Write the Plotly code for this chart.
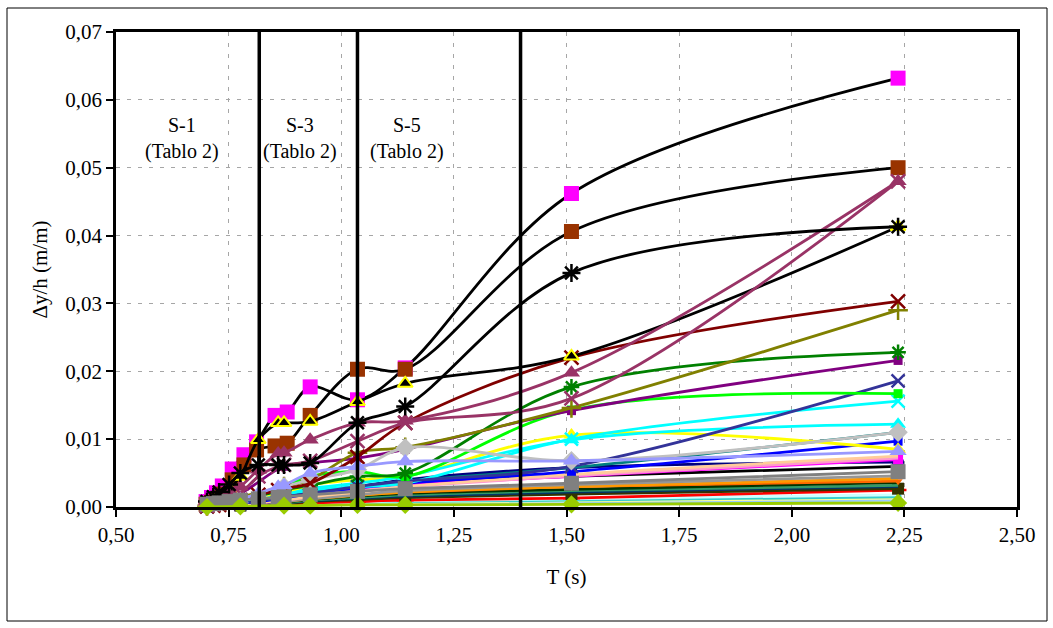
import plotly.graph_objects as go

# ---------------- data ----------------
T_ALL = [0.702, 0.716, 0.729, 0.751, 0.776, 0.816, 0.860, 0.873, 0.931, 1.036, 1.142, 1.511, 2.236]
T_MAIN = [0.702, 0.776, 0.873, 0.931, 1.036, 1.142, 1.511, 2.236]
T_PINK = [0.700, 0.712, 0.723, 0.736, 0.758, 0.784, 0.812, 0.853, 0.880, 0.931, 1.036, 1.142, 1.511, 2.236]

Y_PINK = [0.0008, 0.0014, 0.0021, 0.0031, 0.0056, 0.0077, 0.0096, 0.0135, 0.0140, 0.0177, 0.0158, 0.0205, 0.0462, 0.0632]
Y_BROWN = [0.0004, 0.0007, 0.0012, 0.0019, 0.0040, 0.0062, 0.0084, 0.0090, 0.0094, 0.0135, 0.0203, 0.0203, 0.0406, 0.0500]
Y_AST = [0.0008, 0.0015, 0.0022, 0.0033, 0.0050, 0.0062, 0.0062, 0.0062, 0.0065, 0.0124, 0.0148, 0.0345, 0.0413]
Y_YTRI = [0.0005, 0.0010, 0.0015, 0.0027, 0.0045, 0.0099, 0.0124, 0.0124, 0.0126, 0.0155, 0.0182, 0.0222, 0.0413]
Y_PTRI = [0.0003, 0.0006, 0.0010, 0.0018, 0.0030, 0.0055, 0.0079, 0.0080, 0.0099, 0.0124, 0.0127, 0.0198, 0.0480]
Y_PX = [0.0002, 0.0004, 0.0007, 0.0012, 0.0020, 0.0045, 0.0060, 0.0062, 0.0068, 0.0097, 0.0124, 0.0160, 0.0480]
Y_DRED = [0.0001, 0.0002, 0.0003, 0.0006, 0.0010, 0.0018, 0.0025, 0.0027, 0.0035, 0.0074, 0.0124, 0.0220, 0.0303]
Y_LAV = [0.0001, 0.0002, 0.0004, 0.0007, 0.0011, 0.0020, 0.0030, 0.0032, 0.0050, 0.0060, 0.0067, 0.0068, 0.0082]
Y_GRAY = [0.0004, 0.0005, 0.0006, 0.0008, 0.0010, 0.0012, 0.0014, 0.0015, 0.0018, 0.0023, 0.0027, 0.0035, 0.0052]

Y_OLIVE = [0.0002, 0.0015, 0.0030, 0.0040, 0.0080, 0.0088, 0.0146, 0.0290]
Y_GREEN = [0.0002, 0.0010, 0.0025, 0.0032, 0.0045, 0.0050, 0.0177, 0.0228]
Y_PURPLE = [0.0003, 0.0020, 0.0060, 0.0065, 0.0072, 0.0085, 0.0142, 0.0216]
Y_LIME = [0.0002, 0.0010, 0.0030, 0.0045, 0.0052, 0.0045, 0.0143, 0.0167]
Y_SLATE = [0.0001, 0.0005, 0.0015, 0.0020, 0.0030, 0.0038, 0.0060, 0.0186]
Y_CYANX = [0.0001, 0.0006, 0.0018, 0.0025, 0.0030, 0.0035, 0.0100, 0.0156]
Y_CYANT = [0.0001, 0.0006, 0.0018, 0.0027, 0.0035, 0.0045, 0.0099, 0.0122]
Y_YELLOW = [0.0001, 0.0008, 0.0020, 0.0032, 0.0040, 0.0045, 0.0106, 0.0085]
Y_SILVER = [0.0002, 0.0012, 0.0030, 0.0040, 0.0055, 0.0087, 0.0068, 0.0110]
Y_TEAL = [0.0001, 0.0006, 0.0015, 0.0022, 0.0030, 0.0038, 0.0058, 0.0110]
Y_BLUE = [0.0001, 0.0005, 0.0013, 0.0020, 0.0028, 0.0035, 0.0052, 0.0097]
Y_PEACH = [0.0001, 0.0004, 0.0010, 0.0015, 0.0022, 0.0030, 0.0048, 0.0075]
Y_ROSE = [0.0001, 0.0004, 0.0011, 0.0017, 0.0024, 0.0030, 0.0046, 0.0072]
Y_MAGENTA = [0.0001, 0.0004, 0.0010, 0.0016, 0.0025, 0.0032, 0.0045, 0.0070]
Y_NAVY = [0.0001, 0.0005, 0.0012, 0.0020, 0.0030, 0.0040, 0.0058, 0.0066]
Y_BLACK2 = [0.0001, 0.0004, 0.0010, 0.0018, 0.0025, 0.0035, 0.0045, 0.0060]
Y_LGRAY = [0.0001, 0.0003, 0.0008, 0.0012, 0.0018, 0.0024, 0.0033, 0.0046]
Y_LORANGE = [0.0001, 0.0003, 0.0008, 0.0012, 0.0017, 0.0022, 0.0030, 0.0042]
Y_ORANGE = [0.0001, 0.0004, 0.0010, 0.0013, 0.0018, 0.0022, 0.0030, 0.0038]
Y_DGREEN = [0.0001, 0.0003, 0.0007, 0.0011, 0.0016, 0.0020, 0.0026, 0.0036]
Y_SEA = [0.0001, 0.0003, 0.0006, 0.0010, 0.0014, 0.0018, 0.0024, 0.0032]
Y_DTEAL = [0.0001, 0.0002, 0.0006, 0.0009, 0.0013, 0.0016, 0.0022, 0.0030]
Y_DOLIVE = [0.0001, 0.0002, 0.0005, 0.0008, 0.0011, 0.0014, 0.0019, 0.0027]
Y_RED = [0.0000, 0.0002, 0.0004, 0.0006, 0.0008, 0.0010, 0.0013, 0.0025]
Y_LTURQ = [0.0000, 0.0001, 0.0003, 0.0005, 0.0007, 0.0009, 0.0012, 0.0018]
Y_SKY = [0.0000, 0.0001, 0.0003, 0.0004, 0.0006, 0.0008, 0.0010, 0.0015]
Y_LYELLOW = [0.0000, 0.0001, 0.0002, 0.0004, 0.0005, 0.0007, 0.0009, 0.0013]
Y_PBLUE = [0.0000, 0.0001, 0.0002, 0.0003, 0.0004, 0.0005, 0.0007, 0.0010]
Y_YGREEN = [0.0000, 0.0001, 0.0002, 0.0002, 0.0003, 0.0003, 0.0004, 0.0006]

VLINES = [0.818, 1.036, 1.398]
LABELS = ["S-1<br>(Tablo 2)", "S-3<br>(Tablo 2)", "S-5<br>(Tablo 2)"]
LABEL_X = [0.646, 0.909, 1.146]
LABEL_Y = 0.0543

X_TITLE = "T (s)"
Y_TITLE = "Δy/h (m/m)"

FONT = "Liberation Serif, Times New Roman, serif"

# ---------------- styles: (T, Y, line colour, symbol, marker colour, marker line colour, size) ----------------
series = [
    (T_MAIN, Y_PBLUE, "#99CCFF", None, None, None, 0),
    (T_MAIN, Y_LYELLOW, "#FFFF99", None, None, None, 0),
    (T_MAIN, Y_SKY, "#33CCCC", "circle", "#33CCCC", "#33CCCC", 7),
    (T_MAIN, Y_LTURQ, "#CCFFFF", None, None, None, 0),
    (T_MAIN, Y_RED, "#FF0000", "cross-thin-open", "#FF0000", "#FF0000", 12),
    (T_MAIN, Y_DOLIVE, "#333300", "square", "#333300", "#333300", 12),
    (T_MAIN, Y_DTEAL, "#003366", None, None, None, 0),
    (T_MAIN, Y_SEA, "#339966", None, None, None, 0),
    (T_MAIN, Y_DGREEN, "#003300", None, None, None, 0),
    (T_MAIN, Y_ORANGE, "#FF6600", "triangle-down", "#FF6600", "#FF6600", 8),
    (T_MAIN, Y_LORANGE, "#FF9900", None, None, None, 0),
    (T_MAIN, Y_LGRAY, "#969696", None, None, None, 0),
    (T_MAIN, Y_BLACK2, "#000000", "asterisk-open", "#000000", "#000000", 10),
    (T_MAIN, Y_NAVY, "#000080", "circle", "#000080", "#000080", 12),
    (T_MAIN, Y_MAGENTA, "#FF00FF", "square", "#FF00FF", "#FF00FF", 10),
    (T_MAIN, Y_ROSE, "#FF99CC", None, None, None, 0),
    (T_MAIN, Y_PEACH, "#FFCC99", None, None, None, 0),
    (T_MAIN, Y_BLUE, "#0000FF", "square", "#0000FF", "#0000FF", 9),
    (T_MAIN, Y_TEAL, "#008080", None, None, None, 0),
    (T_MAIN, Y_YELLOW, "#FFFF00", "triangle-up", "#FFFF00", "#FFFF00", 14),
    (T_MAIN, Y_CYANT, "#00FFFF", "triangle-up", "#00FFFF", "#00FFFF", 14),
    (T_MAIN, Y_CYANX, "#00FFFF", "x-thin-open", "#00FFFF", "#00FFFF", 13),
    (T_MAIN, Y_SLATE, "#333399", "x-thin-open", "#333399", "#333399", 13),
    (T_MAIN, Y_LIME, "#00FF00", "square", "#00FF00", "#00FF00", 9),
    (T_MAIN, Y_PURPLE, "#800080", "square", "#800080", "#800080", 9),
    (T_MAIN, Y_GREEN, "#008000", "asterisk-open", "#008000", "#008000", 13),
    (T_MAIN, Y_OLIVE, "#808000", "cross-thin-open", "#808000", "#808000", 14),
    (T_MAIN, Y_SILVER, "#C0C0C0", "diamond", "#C0C0C0", "#C0C0C0", 15),
    (T_ALL, Y_DRED, "#800000", "x-thin-open", "#800000", "#800000", 14),
    (T_PINK, Y_PINK, "#000000", "square", "#FF00FF", "#FF00FF", 15),
    (T_PINK, Y_BROWN, "#000000", "square", "#993300", "#993300", 15),
    (T_ALL, Y_YTRI, "#000000", "triangle-up", "#000000", "#FFFF00", 13),
    (T_ALL, Y_PTRI, "#993366", "triangle-up", "#993366", "#993366", 15),
    (T_ALL, Y_PX, "#993366", "x-thin-open", "#993366", "#993366", 14),
    (T_ALL, Y_AST, "#000000", "asterisk-open", "#000000", "#000000", 15),
    (T_ALL, Y_LAV, "#9999FF", "triangle-up", "#9999FF", "#9999FF", 15),
    (T_ALL, Y_GRAY, "#808080", "square", "#808080", "#808080", 15),
    (T_MAIN, Y_YGREEN, "#99CC00", "diamond", "#99CC00", "#99CC00", 14),
]

fig = go.Figure()
for t, y, lc, sym, mc, mlc, size in series:
    if sym is None:
        mode = "lines"
        marker = None
    else:
        mode = "lines+markers"
        open_sym = sym.endswith("-open")
        marker = dict(symbol=sym, size=size, color=mc,
                      line=dict(color=mlc, width=2.5 if open_sym else (2 if mlc != mc else 0)))
    fig.add_trace(go.Scatter(
        x=t, y=y, mode=mode, marker=marker,
        line=dict(color=lc, width=2.8, shape="spline", smoothing=1.0),
        cliponaxis=False, showlegend=False, hoverinfo="skip",
    ))

for xv in VLINES:
    fig.add_shape(type="line", xref="x", yref="y", x0=xv, x1=xv, y0=0, y1=0.07,
                  line=dict(color="black", width=3.5), layer="above")

for txt, xv in zip(LABELS, LABEL_X):
    fig.add_annotation(x=xv, y=LABEL_Y, xref="x", yref="y", text=txt, showarrow=False,
                       font=dict(family=FONT, size=20, color="black"))

# outer chart border
fig.add_shape(type="rect", xref="paper", yref="paper",
              x0=(7 - 116) / 901, x1=(1047 - 116) / 901,
              y0=(507 - 621) / 475, y1=(507 - 8) / 475,
              line=dict(color="black", width=1), layer="below")

axis_common = dict(
    showline=True, linecolor="black", linewidth=2.5, mirror=True,
    ticks="outside", ticklen=7, tickwidth=1.5, tickcolor="black",
    showgrid=True, gridcolor="#A6A6A6", gridwidth=1, griddash="4px,7px",
    zeroline=False, tickformat=".2f",
    tickfont=dict(family=FONT, size=21, color="black"),
)

fig.update_layout(
    width=1053, height=628,
    margin=dict(l=116, r=36, t=32, b=121),
    paper_bgcolor="white", plot_bgcolor="white",
    font=dict(family=FONT, size=20, color="black"),
    separators=", ",
    xaxis=dict(range=[0.5, 2.5], tick0=0.5, dtick=0.25,
               title=dict(text=X_TITLE, standoff=24,
                          font=dict(family=FONT, size=21, color="black")),
               **axis_common),
    yaxis=dict(range=[0, 0.07], tick0=0, dtick=0.01,
               title=dict(text=Y_TITLE, standoff=12,
                          font=dict(family=FONT, size=21, color="black")),
               **axis_common),
    hovermode=False,
)

fig.write_html("out.html", config={"displayModeBar": False},
               post_script="document.body.style.margin='0px';")
